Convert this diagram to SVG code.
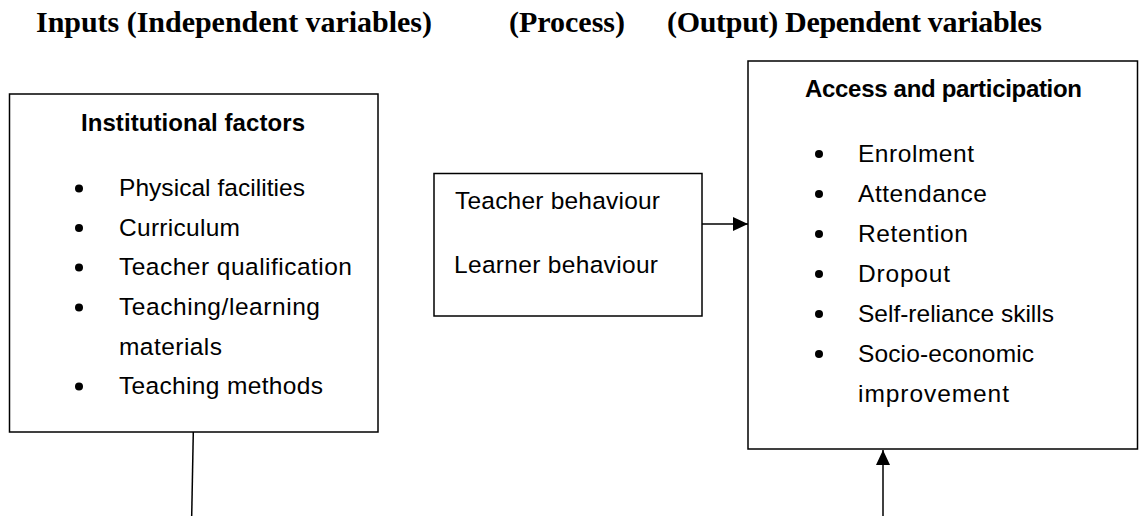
<svg xmlns="http://www.w3.org/2000/svg" width="1139" height="516" viewBox="0 0 1139 516">
<style>
.hdr{font-family:"Liberation Serif","Times New Roman",serif;font-weight:bold;font-size:30px;fill:#000}
.ttl{font-family:"Liberation Sans",Arial,sans-serif;font-weight:bold;font-size:24px;fill:#000}
.txt{font-family:"Liberation Sans",Arial,sans-serif;font-size:24.5px;fill:#000}
.box{fill:#fff;stroke:#000;stroke-width:1.5}
.ln{fill:none;stroke:#000;stroke-width:1.5}
</style>
<defs>
<marker id="ah" markerWidth="15" markerHeight="14" refX="15" refY="7" orient="auto" markerUnits="userSpaceOnUse">
<path d="M0,0 L15,7 L0,14 Z" fill="#000"/>
</marker>
</defs>
<rect width="1139" height="516" fill="#fff"/>
<g id="header">
<text class="hdr" x="36" y="32" textLength="396">Inputs (Independent variables)</text>
<text class="hdr" x="509" y="32" textLength="116">(Process)</text>
<text class="hdr" x="667" y="32" textLength="375">(Output) Dependent variables</text>
</g>
<g id="connectors">
<line class="ln" x1="193.3" y1="432" x2="191.7" y2="516"/>
<line class="ln" x1="702" y1="224" x2="748" y2="224" marker-end="url(#ah)"/>
<line class="ln" x1="883" y1="516" x2="883" y2="450" marker-end="url(#ah)"/>
</g>
<g id="institutional">
<rect class="box" x="9.5" y="94" width="368.5" height="338"/>
<text class="ttl" x="81" y="131" textLength="224">Institutional factors</text>
<g fill="#000">
<circle cx="79" cy="188.5" r="4"/>
<circle cx="79" cy="228" r="4"/>
<circle cx="79" cy="267.5" r="4"/>
<circle cx="79" cy="307.5" r="4"/>
<circle cx="79" cy="386.5" r="4"/>
</g>
<text class="txt" x="119" y="196" textLength="186">Physical facilities</text>
<text class="txt" x="119" y="235.7" textLength="121">Curriculum</text>
<text class="txt" x="119" y="275" textLength="233">Teacher qualification</text>
<text class="txt" x="119" y="315" textLength="201">Teaching/learning</text>
<text class="txt" x="119" y="355" textLength="103">materials</text>
<text class="txt" x="119" y="394.3" textLength="204">Teaching methods</text>
</g>
<g id="process">
<rect class="box" x="434" y="173.5" width="268" height="142.5"/>
<text class="txt" x="455" y="209" textLength="205">Teacher behaviour</text>
<text class="txt" x="454" y="273" textLength="204">Learner behaviour</text>
</g>
<g id="access">
<rect class="box" x="748" y="61" width="389.5" height="388"/>
<text class="ttl" x="805" y="97" textLength="277">Access and participation</text>
<g fill="#000">
<circle cx="819" cy="154" r="4"/>
<circle cx="819" cy="194" r="4"/>
<circle cx="819" cy="234" r="4"/>
<circle cx="819" cy="274" r="4"/>
<circle cx="819" cy="314" r="4"/>
<circle cx="819" cy="354" r="4"/>
</g>
<text class="txt" x="858" y="161.7" textLength="116">Enrolment</text>
<text class="txt" x="858" y="201.7" textLength="129">Attendance</text>
<text class="txt" x="858" y="241.7" textLength="110">Retention</text>
<text class="txt" x="858" y="281.7" textLength="92">Dropout</text>
<text class="txt" x="858" y="321.7" textLength="196">Self-reliance skills</text>
<text class="txt" x="858" y="361.7" textLength="176">Socio-economic</text>
<text class="txt" x="858" y="401.7" textLength="151">improvement</text>
</g>
</svg>
